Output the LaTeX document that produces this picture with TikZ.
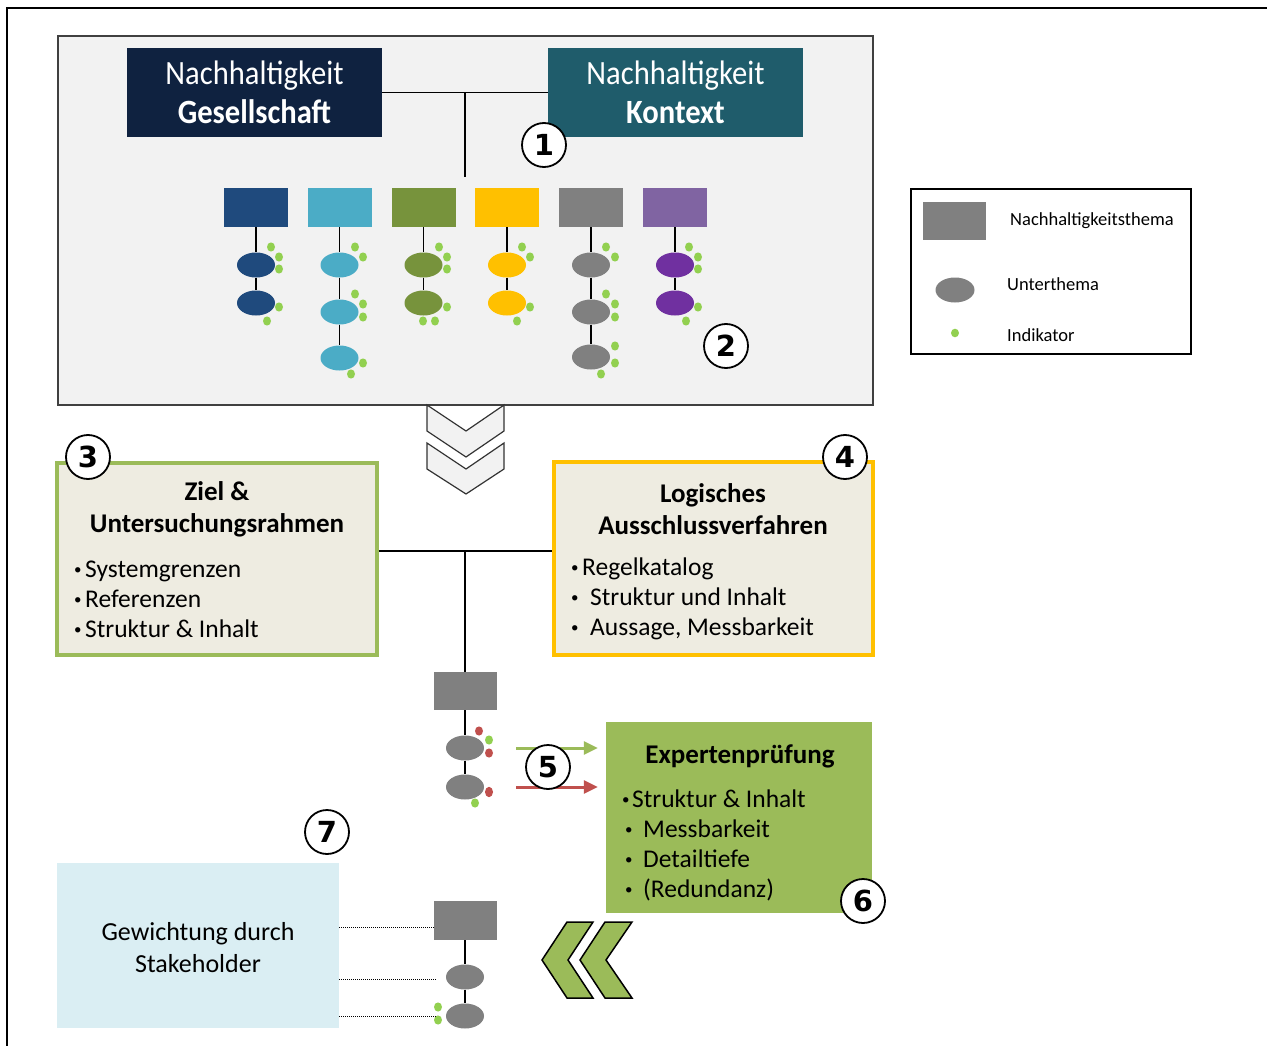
\documentclass[tikz,border=0pt]{standalone}
\usepackage{fontspec}
\setmainfont{Carlito}
\newfontfamily\headfont{Carlito}[FakeStretch=0.9]
\newfontfamily\numfont{DejaVu Sans}
\usetikzlibrary{shapes.geometric,arrows.meta}

\definecolor{navy}{HTML}{0F2240}
\definecolor{petrol}{HTML}{1F5C6B}
\definecolor{topicblue}{HTML}{1F4A7D}
\definecolor{topiccyan}{HTML}{4BACC6}
\definecolor{topicolive}{HTML}{77933C}
\definecolor{topicgold}{HTML}{FFC000}
\definecolor{topicgray}{HTML}{808080}
\definecolor{topicpurple}{HTML}{8064A2}
\definecolor{subpurple}{HTML}{7030A0}
\definecolor{indgreen}{HTML}{92D050}
\definecolor{indred}{HTML}{C0504D}
\definecolor{panelgray}{HTML}{F2F2F2}
\definecolor{boxbeige}{HTML}{EEECE1}
\definecolor{boxgreen}{HTML}{9BBB59}
\definecolor{boxgold}{HTML}{FFC000}
\definecolor{boxsky}{HTML}{DAEEF3}

\newcommand{\bul}[1][11pt]{\makebox[#1][l]{\raisebox{3pt}{\fontsize{15}{15}\selectfont\textbullet}}}

\tikzset{
  every node/.style={inner sep=0pt},
  topic/.style={rectangle, minimum width=64pt, minimum height=39pt},
  sub/.style={ellipse, minimum width=38pt, minimum height=25pt},
  link/.style={line width=1.5pt},
  ind/.style={fill=indgreen},
  bad/.style={fill=indred},
  headbox/.style={rectangle, minimum width=255pt, minimum height=89pt, text=white, align=center, font=\headfont\fontsize{34}{39}\selectfont},
  infobox/.style={rectangle, fill=boxbeige, line width=3.5pt},
  boxtitle/.style={align=center, font=\bfseries\fontsize{27}{32}\selectfont},
  boxlist/.style={align=left, anchor=west, font=\fontsize{25.5}{30}\selectfont},
  numcirc/.style={circle, draw, line width=1.8pt, fill=white, minimum size=44pt, font=\numfont\bfseries\fontsize{29}{29}\selectfont},
  chevdown/.style={fill=panelgray, draw=black!80, line width=1.2pt},
  chevleft/.style={fill=boxgreen, draw=black, line width=1.5pt},
  flowarrow/.style={line width=3pt, -{Triangle[length=14pt,width=13pt]}, shorten >=8pt},
  dotline/.style={densely dotted, line width=1pt},
  legtext/.style={anchor=west, font=\fontsize{18.5}{22}\selectfont},
}

\begin{document}
\begin{tikzpicture}[x=1pt,y=-1pt]
\useasboundingbox (0,0) rectangle (1267,1046);
\draw[line width=2pt] (7,1060) -- (7,8) -- (1280,8);

\draw[fill=panelgray, draw=black!75, line width=1.3pt] (58,36) rectangle (873,405);

\node[headbox, fill=navy] (ges) at (254.5,92.5) {Nachhaltigkeit\\\textbf{Gesellschaft}};
\node[headbox, fill=petrol] (kon) at (675.5,92.5) {Nachhaltigkeit\\\textbf{Kontext}};
\coordinate (top) at (465,177);
\draw[link] (ges.east) -- (kon.west);
\draw[link] (top |- ges.east) -- (top);

\foreach \n/\x/\c in {1/256/topicblue,2/339.5/topiccyan,3/423.5/topicolive,4/507/topicgold,5/591/topicgray,6/675/topicpurple}
  \node[topic, fill=\c] (t\n) at (\x,207.5) {};

\foreach \n/\m/\x/\y/\c in {1/1/256/265/topicblue,1/2/256/303/topicblue,
  2/1/339.5/265/topiccyan,2/2/339.5/312/topiccyan,2/3/339.5/358/topiccyan,
  3/1/423.5/265/topicolive,3/2/423.5/303/topicolive,
  4/1/507/265/topicgold,4/2/507/303/topicgold,
  5/1/591/265/topicgray,5/2/591/312/topicgray,5/3/591/357/topicgray,
  6/1/675/265/subpurple,6/2/675/303/subpurple}
  \node[sub, fill=\c] (e\n\m) at (\x,\y) {};

\draw[link] (t1) -- (e11) -- (e12);
\draw[link] (t2) -- (e21) -- (e22) -- (e23);
\draw[link] (t3) -- (e31) -- (e32);
\draw[link] (t4) -- (e41) -- (e42);
\draw[link] (t5) -- (e51) -- (e52) -- (e53);
\draw[link] (t6) -- (e61) -- (e62);

\foreach \x/\y in {271/247,279/257,279/269,279/307,267/321,
  355/247,363/257,355/294,363/304,363/317,363/363,351/374,
  439/247,447/257,447/269,447/307,423/321,435/321,
  522/247,530/257,530/307,517/321,
  606/247,615/257,606/294,615/304,615/317,615/346,615/363,601/374,
  689/247,698/257,698/269,698/307,686/321}
  \fill[ind] (\x,\y) ellipse (4 and 4.6);

\node[numcirc] (n1) at (544,145) {1};
\node[numcirc] (n2) at (726,346) {2};

\draw[chevdown] (427,405) -- (466,431) -- (504,405) -- (504,431) -- (466,457) -- (427,431) -- cycle;
\draw[chevdown] (427,443) -- (466,469) -- (504,443) -- (504,469) -- (466,494) -- (427,469) -- cycle;

\node[infobox, draw=boxgreen, minimum width=320pt, minimum height=192pt] (zr) at (217,559) {};
\node[infobox, draw=boxgold, minimum width=319pt, minimum height=193pt] (lav) at (713.5,558.5) {};
\node[boxtitle] (zrt) at (217,509) {Ziel \&\\Untersuchungsrahmen};
\node[boxlist] (zrl) at (74,599) {\bul Systemgrenzen\\\bul Referenzen\\\bul Struktur \& Inhalt};
\node[boxtitle] (lavt) at (713,509) {Logisches\\Ausschlussverfahren};
\node[boxlist] (lavl) at (571,599) {\bul Regelkatalog\\\bul[19pt]Struktur und Inhalt\\\bul[19pt]Aussage, Messbarkeit};
\node[numcirc] (n3) at (88,457) {3};
\node[numcirc] (n4) at (845,457) {4};

\coordinate (mid) at (465,551);
\node[topic, fill=topicgray, minimum width=63pt, minimum height=38pt] (g1) at (465,691) {};
\node[sub, fill=topicgray] (s1) at (465,748) {};
\node[sub, fill=topicgray] (s2) at (465,787) {};
\draw[link] (zr.east |- mid) -- (lav.west |- mid);
\draw[link] (mid) -- (g1);
\draw[link] (g1) -- (s1) -- (s2);
\foreach \x/\y in {479/731,489/753}
  \fill[bad] (\x,\y) ellipse (4 and 4.6);
\fill[bad] (489,792) ellipse (4 and 5.2);
\foreach \x/\y in {489/740,475/803}
  \fill[ind] (\x,\y) ellipse (4 and 4.6);

\node[rectangle, fill=boxgreen, minimum width=266pt, minimum height=191pt] (ep) at (739,817.5) {};
\node[boxtitle] (ept) at (740,756) {Expertenprüfung};
\node[boxlist] (epl) at (622,845.5) {\bul[10pt]Struktur \& Inhalt\\\hspace{3pt}\bul[18pt]Messbarkeit\\\hspace{3pt}\bul[18pt]Detailtiefe\\\hspace{3pt}\bul[18pt](Redundanz)};
\coordinate (ag) at (516,748);
\coordinate (ar) at (516,787);
\draw[flowarrow, boxgreen] (ag) -- (ag -| ep.west);
\draw[flowarrow, indred] (ar) -- (ar -| ep.west);
\node[numcirc] (n5) at (548,767) {5};
\node[numcirc] (n6) at (863,901) {6};

\node[rectangle, fill=boxsky, minimum width=282pt, minimum height=165pt, align=center, font=\fontsize{26}{32}\selectfont] (gw) at (198,945.5) {};
\node[align=center, font=\fontsize{26}{32}\selectfont] (gwt) at (198,947.5) {Gewichtung durch\\Stakeholder};
\node[numcirc] (n7) at (327,832) {7};

\node[topic, fill=topicgray, minimum width=63pt, minimum height=39pt] (g2) at (465,920.5) {};
\node[sub, fill=topicgray] (u1) at (465,977) {};
\node[sub, fill=topicgray] (u2) at (465,1016) {};
\draw[link] (g2) -- (u1) -- (u2);
\foreach \x/\y in {438/1007,438/1020}
  \fill[ind] (\x,\y) ellipse (4 and 4.6);
\coordinate (w1) at (339,927);
\coordinate (w2) at (339,979);
\coordinate (w3) at (339,1016);
\draw[dotline] (w1) -- (w1 -| g2.west);
\draw[dotline, shorten >=10pt] (w2) -- (w2 -| u1.west);
\draw[dotline, shorten >=9pt] (w3) -- (w3 -| u2.west);

\draw[chevleft] (567,922) -- (593,922) -- (568,960) -- (593,998) -- (567,998) -- (542,960) -- cycle;
\draw[chevleft] (605,922) -- (632,922) -- (606,960) -- (632,998) -- (605,998) -- (580,960) -- cycle;

\node[rectangle, draw, line width=1.3pt, fill=white, minimum width=280pt, minimum height=165pt] (leg) at (1051,271.5) {};
\node[topic, fill=topicgray, minimum width=63pt, minimum height=38pt] (lt) at (954.5,221) {};
\node[sub, fill=topicgray, minimum width=39pt] (ls) at (955,290) {};
\fill[ind] (955,333) ellipse (4 and 4.3);
\node[legtext] (ltt) at (1010,221) {Nachhaltigkeitsthema};
\node[legtext] (lst) at (1007,284) {Unterthema};
\node[legtext] (lit) at (1007,335) {Indikator};
\end{tikzpicture}
\end{document}
